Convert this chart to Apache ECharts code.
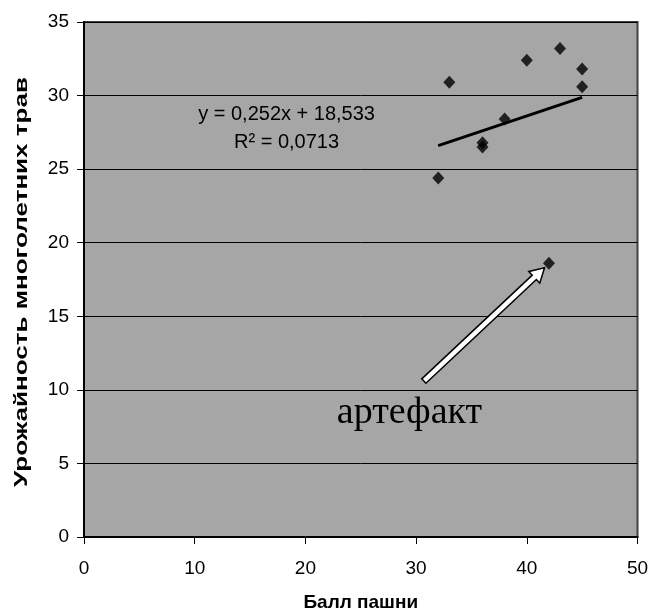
<!DOCTYPE html>
<html>
<head>
<meta charset="utf-8">
<script src="https://cdn.jsdelivr.net/npm/echarts@6/dist/echarts.min.js"></script>
<style>
  html, body { margin: 0; padding: 0; background: #fff; }
  #chart { width: 650px; height: 612px; }
</style>
</head>
<body>
<div id="chart"></div>
<script>
// Балл пашни (x) и урожайность многолетних трав (y)
const ballPashni = [32, 33, 36, 36, 38, 40, 42, 43, 45, 45];
const urozhainost = [24.4, 30.9, 26.8, 26.5, 28.4, 32.4, 18.6, 33.2, 31.8, 30.6];

// Линейный тренд, как подписан на графике
const trendSlope = 0.252;
const trendIntercept = 18.533;
const trendText = 'y = 0,252x + 18,533\nR² = 0,0713';

// Подпись и стрелка к выпадающей точке
const artefactText = 'артефакт';
const artefactLabelAt = [29.4, 8.45];
const arrowFrom = [30.7, 10.6];
const arrowTo = [41.6, 18.3];

const xTicks = [0, 10, 20, 30, 40, 50];
const yTicks = [0, 5, 10, 15, 20, 25, 30, 35];
const xTitle = 'Балл пашни';
const yTitle = 'Урожайность многолетних трав';

const points = ballPashni.map((x, i) => [x, urozhainost[i]]);
const xMin = Math.min(...ballPashni), xMax = Math.max(...ballPashni);
const trendLine = [
  [xMin, trendSlope * xMin + trendIntercept],
  [xMax, trendSlope * xMax + trendIntercept]
];

const font = "'Liberation Sans', Arial, sans-serif";

const chart = echarts.init(document.getElementById('chart'), null, { renderer: 'canvas' });
chart.setOption({
  animation: false,
  backgroundColor: '#ffffff',
  grid: {
    left: 84, right: 12.5, top: 22, bottom: 75,
    containLabel: false,
    outerBoundsMode: 'none',
    show: true, backgroundColor: '#a6a6a6',
    borderColor: '#404040', borderWidth: 2
  },
  // вертикальная подпись оси Y, растянутая вдоль строки
  graphic: [
    {
      type: 'text',
      x: 22, y: 282,
      rotation: Math.PI / 2,
      scaleX: 1.37,
      style: {
        text: yTitle,
        font: "bold 19px 'Liberation Sans', Arial, sans-serif",
        fill: '#000',
        align: 'center',
        verticalAlign: 'middle'
      }
    }
  ],
  xAxis: {
    type: 'value', min: xTicks[0], max: xTicks[xTicks.length - 1], interval: 10,
    name: xTitle, nameLocation: 'middle', nameGap: 56,
    nameTextStyle: { fontFamily: font, fontWeight: 'bold', fontSize: 19, color: '#000' },
    axisLine: { show: true, lineStyle: { color: '#000', width: 2 } },
    axisTick: { show: true, length: 7, lineStyle: { color: '#000', width: 1 } },
    axisLabel: { fontFamily: font, fontSize: 19, color: '#000', margin: 22 },
    splitLine: { show: false }
  },
  yAxis: {
    type: 'value', min: yTicks[0], max: yTicks[yTicks.length - 1], interval: 5,
    axisLine: { show: true, lineStyle: { color: '#000', width: 2 } },
    axisTick: { show: true, length: 7, lineStyle: { color: '#000', width: 1 } },
    axisLabel: { fontFamily: font, fontSize: 19, color: '#000', margin: 15 },
    splitLine: { show: true, lineStyle: { color: '#000', width: 1 } }
  },
  series: [
    {
      // стрелка-указатель
      type: 'custom',
      silent: true,
      z: 3,
      data: [[arrowFrom[0], arrowFrom[1], arrowTo[0], arrowTo[1]]],
      renderItem: function (params, api) {
        const p1 = api.coord([api.value(0), api.value(1)]);
        const p2 = api.coord([api.value(2), api.value(3)]);
        const dx = p2[0] - p1[0], dy = p2[1] - p1[1];
        const len = Math.sqrt(dx * dx + dy * dy);
        const ux = dx / len, uy = dy / len;
        const nx = -uy, ny = ux;
        const w = 3, hw = 8, hl = 14;
        const nb = [p2[0] - ux * hl, p2[1] - uy * hl];
        const pts = [
          [p1[0] + nx * w, p1[1] + ny * w],
          [nb[0] + nx * w, nb[1] + ny * w],
          [nb[0] + nx * hw, nb[1] + ny * hw],
          [p2[0], p2[1]],
          [nb[0] - nx * hw, nb[1] - ny * hw],
          [nb[0] - nx * w, nb[1] - ny * w],
          [p1[0] - nx * w, p1[1] - ny * w]
        ];
        return {
          type: 'polygon',
          shape: { points: pts },
          style: { fill: '#ffffff', stroke: '#000000', lineWidth: 1.5, lineJoin: 'miter' }
        };
      }
    },
    {
      // линия тренда
      type: 'line',
      data: trendLine,
      symbol: 'none',
      z: 4,
      lineStyle: { color: '#000', width: 3 },
      markPoint: {
        symbol: 'circle', symbolSize: 0,
        data: [
          {
            coord: [18.3, 27.75],
            label: {
              show: true, position: 'inside', formatter: trendText,
              fontFamily: font, fontSize: 20, color: '#000', lineHeight: 28, align: 'center'
            }
          },
          {
            coord: artefactLabelAt,
            label: {
              show: true, position: 'inside', formatter: artefactText,
              fontFamily: "'Liberation Serif', 'Times New Roman', serif",
              fontSize: 38, color: '#000'
            }
          }
        ]
      }
    },
    {
      type: 'scatter',
      data: points,
      symbol: 'diamond',
      symbolSize: [12, 13],
      z: 5,
      itemStyle: { color: '#000' }
    }
  ]
});
</script>
</body>
</html>
